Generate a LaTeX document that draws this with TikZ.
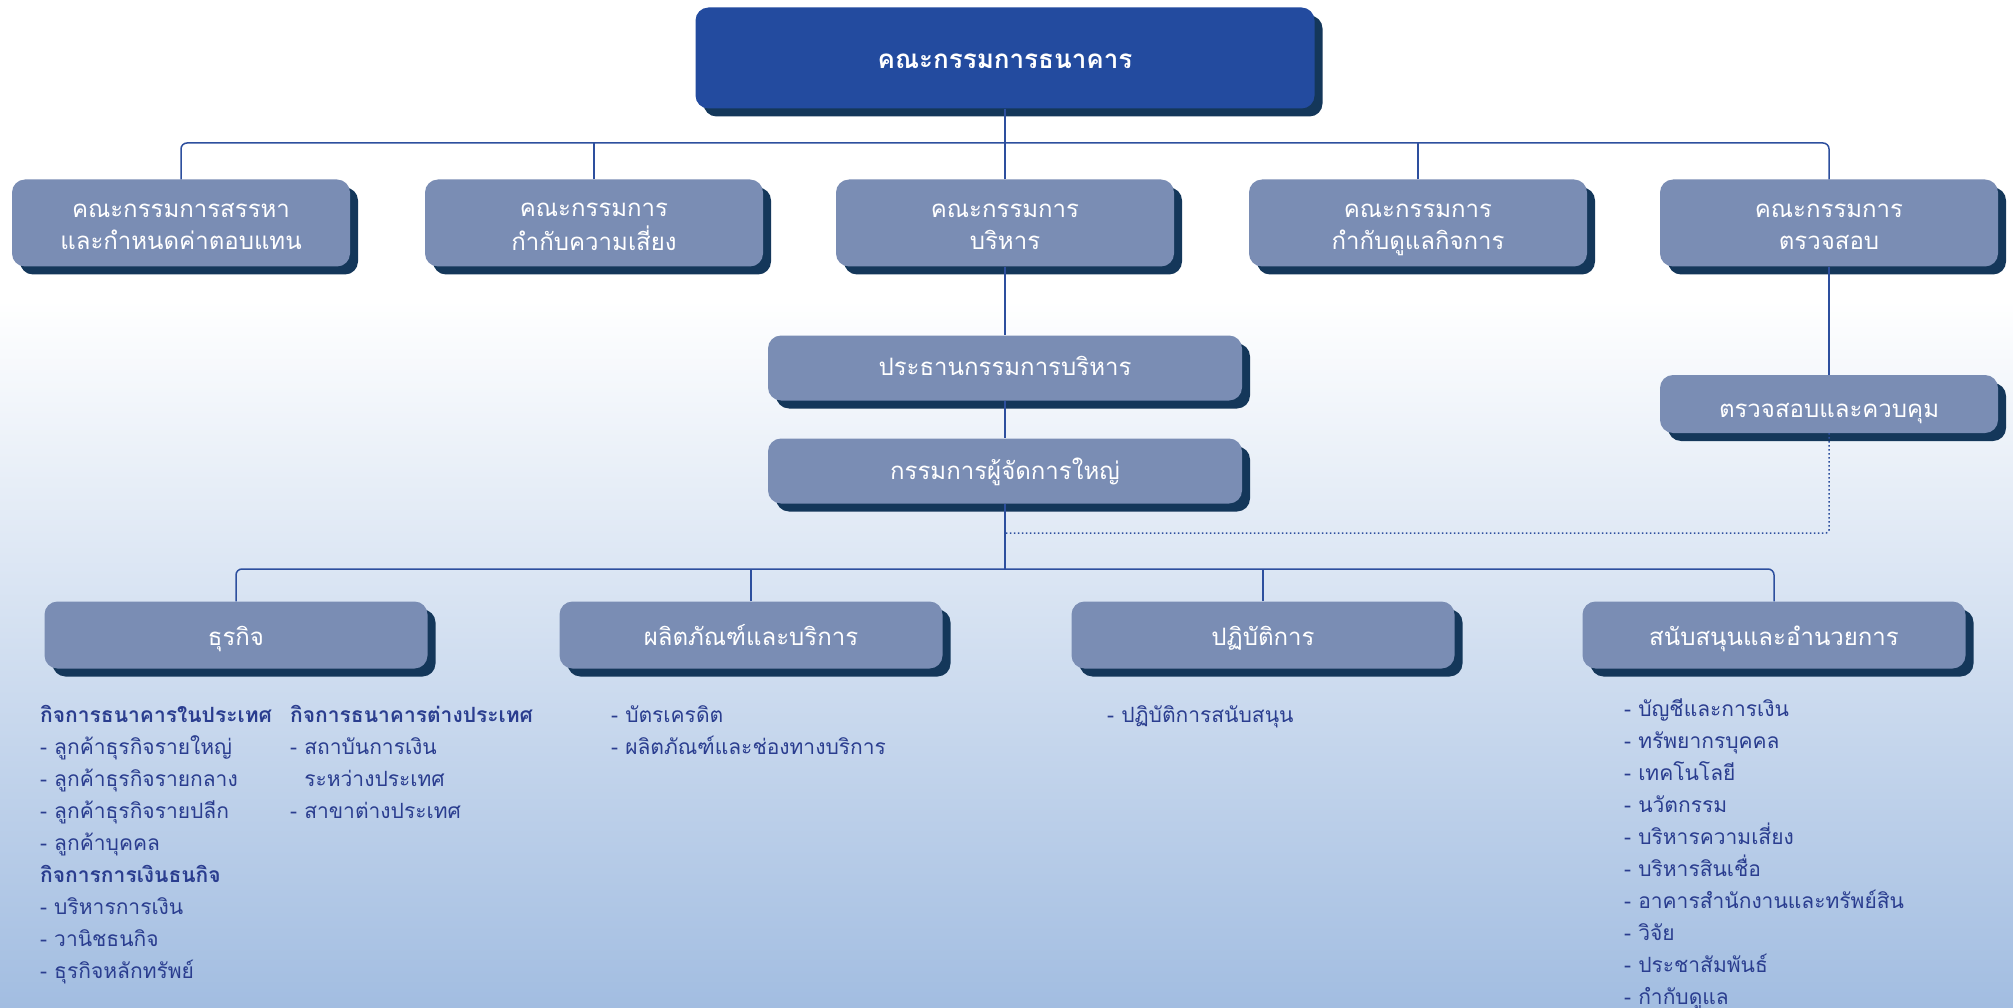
\documentclass[tikz,border=0pt]{standalone}
\usepackage{fontspec}
\newfontfamily\thai[Script=Thai]{Loma}
\usetikzlibrary{shadows}
\definecolor{topfill}{RGB}{35,75,159}
\definecolor{boxfill}{RGB}{122,141,180}
\definecolor{shadowc}{RGB}{20,55,90}
\definecolor{linec}{RGB}{45,79,158}
\definecolor{listc}{RGB}{42,61,143}
\definecolor{bgbot}{RGB}{162,189,225}
\newcommand\lowtxt[2][4pt]{\raisebox{-#1}[\height][\depth]{\begin{tabular}{@{}c@{}}#2\end{tabular}}}
\begin{document}
\begin{tikzpicture}[x=1pt,y=-1pt,
  basebox/.style={rounded corners=13pt, align=center, text=white, inner sep=0pt,
    copy shadow={shadow xshift=8pt, shadow yshift=-8pt, fill=shadowc, draw=none}},
  topbox/.style={basebox, fill=topfill, minimum width=619pt, minimum height=101pt,
    font=\thai\bfseries\fontsize{26pt}{32pt}\selectfont},
  box/.style={basebox, fill=boxfill, font=\thai\fontsize{24pt}{32pt}\selectfont},
  combox/.style={box, minimum width=338pt, minimum height=87pt},
  midbox/.style={box, minimum width=474pt, minimum height=65pt},
  divbox/.style={box, minimum width=383pt, minimum height=67pt},
  conn/.style={draw=linec, line width=1.5pt},
  dotconn/.style={draw=linec, line width=1.5pt, dash pattern=on 1.5pt off 2.5pt},
  listtext/.style={anchor=north west, align=left, inner sep=0pt, text=listc,
    font=\thai\fontsize{21pt}{32pt}\selectfont}
]
\useasboundingbox (0,0) rectangle (2013,1008);
\fill[white] (0,0) rectangle (2013,1008);
\shade[top color=white, bottom color=bgbot] (0,300) rectangle (2013,1008);

% top
\node[topbox] (board) at (1005,58) {\lowtxt{คณะกรรมการธนาคาร}};

% committees
\node[combox] (c1) at (181,223) {\lowtxt{คณะกรรมการสรรหา\\และกำหนดค่าตอบแทน}};
\node[combox] (c2) at (594,223) {\lowtxt{คณะกรรมการ\\กำกับความเสี่ยง}};
\node[combox] (c3) at (1005,223) {\lowtxt{คณะกรรมการ\\บริหาร}};
\node[combox] (c4) at (1418,223) {\lowtxt{คณะกรรมการ\\กำกับดูแลกิจการ}};
\node[combox] (c5) at (1829,223) {\lowtxt{คณะกรรมการ\\ตรวจสอบ}};

% middle
\node[midbox] (ceo) at (1005,368) {\lowtxt[1pt]{ประธานกรรมการบริหาร}};
\node[midbox] (md) at (1005,471) {\lowtxt[2pt]{กรรมการผู้จัดการใหญ่}};
\node[box, minimum width=338pt, minimum height=58pt] (audit) at (1829,404) {\lowtxt[7pt]{ตรวจสอบและควบคุม}};

% divisions
\node[divbox] (d1) at (236,635) {\lowtxt{ธุรกิจ}};
\node[divbox] (d2) at (751,635) {\lowtxt{ผลิตภัณฑ์และบริการ}};
\node[divbox] (d3) at (1263,635) {\lowtxt{ปฏิบัติการ}};
\node[divbox] (d4) at (1774,635) {\lowtxt{สนับสนุนและอำนวยการ}};

% buses
\coordinate (bus1) at (1005,143);
\coordinate (bus2) at (1005,569);
\coordinate (dotend) at (1005,533);

\draw[conn, rounded corners=6pt] (c1.north) |- (c5.north |- bus1) -- (c5.north);
\draw[conn] (board.south) -- (bus1);
\draw[conn] (c2.north) -- (c2.north |- bus1);
\draw[conn] (c3.north) -- (c3.north |- bus1);
\draw[conn] (c4.north) -- (c4.north |- bus1);
\draw[conn] (c3.south) -- (ceo.north);
\draw[conn] (ceo.south) -- (md.north);
\draw[conn] (c5.south) -- (audit.north);
\draw[conn] (md.south) -- (bus2);
\draw[conn, rounded corners=6pt] (d1.north) |- (d4.north |- bus2) -- (d4.north);
\draw[conn] (d2.north) -- (d2.north |- bus2);
\draw[conn] (d3.north) -- (d3.north |- bus2);
\draw[dotconn, rounded corners=3pt] (audit.south) |- (dotend);

% lists
\node[listtext] (l1) at (40,705) {\textbf{กิจการธนาคารในประเทศ}\\- ลูกค้าธุรกิจรายใหญ่\\- ลูกค้าธุรกิจรายกลาง\\- ลูกค้าธุรกิจรายปลีก\\- ลูกค้าบุคคล\\\textbf{กิจการการเงินธนกิจ}\\- บริหารการเงิน\\- วานิชธนกิจ\\- ธุรกิจหลักทรัพย์};
\node[listtext] (l2) at (290,705) {\textbf{กิจการธนาคารต่างประเทศ}\\- สถาบันการเงิน\\\phantom{- }ระหว่างประเทศ\\- สาขาต่างประเทศ};
\node[listtext] (l3) at (611,705) {- บัตรเครดิต\\- ผลิตภัณฑ์และช่องทางบริการ};
\node[listtext] (l4) at (1107,705) {- ปฏิบัติการสนับสนุน};
\node[listtext] (l5) at (1624,699) {- บัญชีและการเงิน\\- ทรัพยากรบุคคล\\- เทคโนโลยี\\- นวัตกรรม\\- บริหารความเสี่ยง\\- บริหารสินเชื่อ\\- อาคารสำนักงานและทรัพย์สิน\\- วิจัย\\- ประชาสัมพันธ์\\- กำกับดูแล};
\end{tikzpicture}
\end{document}
